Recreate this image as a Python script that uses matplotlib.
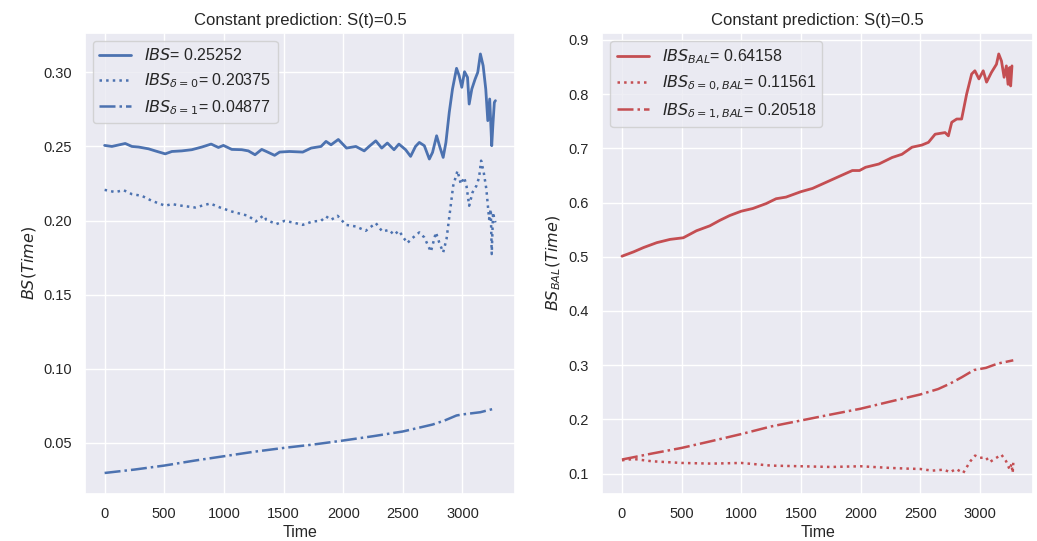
import numpy as np
import matplotlib
matplotlib.use('Agg')
import matplotlib.pyplot as plt
import seaborn as sns

sns.set_theme(style='darkgrid', color_codes=True)
plt.rcParams['font.family'] = ['Liberation Sans', 'DejaVu Sans']

# IBS curves (left panel)
t_ibs = [0, 61, 173, 229, 285, 368, 424, 508, 564, 647, 731, 815, 893, 954, 996,
         1066, 1150, 1205, 1261, 1317, 1356, 1425, 1467, 1550, 1661, 1731, 1814,
         1856, 1898, 1959, 2028, 2106, 2176, 2217, 2273, 2323, 2370, 2426, 2467,
         2523, 2565, 2606, 2638, 2680, 2722, 2749, 2783, 2811, 2838, 2861, 2889,
         2916, 2950, 2972, 2994, 3017, 3042, 3056, 3078, 3106, 3128, 3150, 3173,
         3195, 3212, 3228, 3245, 3256, 3267, 3276]
bs_ibs = [0.2507, 0.250, 0.252, 0.250, 0.2496, 0.2484, 0.247, 0.245, 0.2466, 0.247,
          0.2478, 0.2496, 0.2516, 0.2493, 0.2507, 0.248, 0.2478, 0.247, 0.2444,
          0.248, 0.2466, 0.244, 0.2462, 0.2466, 0.2462, 0.2489, 0.25, 0.2534,
          0.2511, 0.2547, 0.2489, 0.25, 0.247, 0.25, 0.2538, 0.2489, 0.2523,
          0.2478, 0.2516, 0.2478, 0.2433, 0.25, 0.2527, 0.2505, 0.2415, 0.246,
          0.2572, 0.2494, 0.2426, 0.2527, 0.273, 0.2887, 0.3027, 0.2977, 0.2899,
          0.3004, 0.2966, 0.2786, 0.2887, 0.2955, 0.30, 0.3124, 0.3045, 0.2887,
          0.2674, 0.282, 0.2505, 0.2662, 0.2797, 0.2809]

t_ibs0 = [0, 89, 159, 229, 312, 396, 508, 564, 647, 759, 885, 968, 1066, 1150, 1205,
          1267, 1331, 1356, 1439, 1508, 1578, 1661, 1745, 1814, 1856, 1898, 1953,
          2023, 2106, 2189, 2273, 2328, 2384, 2426, 2467, 2537, 2579, 2638, 2680,
          2735, 2777, 2805, 2838, 2866, 2894, 2922, 2958, 2986, 3014, 3033, 3056,
          3084, 3117, 3139, 3156, 3178, 3200, 3223, 3237, 3245, 3256, 3267, 3276]
bs_ibs0 = [0.2207, 0.2192, 0.2205, 0.2178, 0.2167, 0.2133, 0.21, 0.2111, 0.21, 0.2088,
           0.2115, 0.2088, 0.2061, 0.2043, 0.2032, 0.1994, 0.2034, 0.2005, 0.1976,
           0.1998, 0.1987, 0.1971, 0.1994, 0.1998, 0.2028, 0.2005, 0.2032, 0.1971,
           0.196, 0.1931, 0.1983, 0.1926, 0.1937, 0.1904, 0.1931, 0.1848, 0.1881,
           0.192, 0.1886, 0.179, 0.192, 0.1852, 0.1785, 0.1875, 0.2055, 0.2235,
           0.2336, 0.2246, 0.2291, 0.2235, 0.21, 0.219, 0.2235, 0.2291, 0.2404,
           0.2325, 0.2212, 0.201, 0.2077, 0.1774, 0.2055, 0.201, 0.1987]

t_ibs1 = [0, 250, 500, 750, 1000, 1250, 1500, 1750, 2000, 2250, 2500, 2750, 2850,
          2950, 3000, 3150, 3280]
bs_ibs1 = [0.0297, 0.032, 0.0347, 0.038, 0.041, 0.044, 0.0466, 0.0489, 0.0516,
           0.0545, 0.0577, 0.0624, 0.0651, 0.0685, 0.0692, 0.0707, 0.0734]

# balanced IBS curves (right panel)
t_bal = [0, 97, 181, 292, 403, 514, 625, 736, 819, 903, 1000, 1097, 1208, 1292, 1375,
         1500, 1597, 1708, 1819, 1931, 1991, 2042, 2153, 2264, 2347, 2431, 2514,
         2569, 2625, 2708, 2736, 2764, 2806, 2847, 2889, 2931, 2958, 2992, 3028,
         3056, 3097, 3139, 3158, 3181, 3203, 3222, 3236, 3250, 3258, 3269]
bs_bal = [0.501, 0.509, 0.517, 0.526, 0.532, 0.535, 0.548, 0.557, 0.567, 0.576, 0.584,
          0.589, 0.598, 0.607, 0.61, 0.62, 0.626, 0.637, 0.648, 0.659, 0.659, 0.665,
          0.671, 0.683, 0.689, 0.702, 0.706, 0.711, 0.726, 0.729, 0.723, 0.748,
          0.754, 0.754, 0.80, 0.837, 0.843, 0.828, 0.843, 0.822, 0.84, 0.855,
          0.874, 0.861, 0.831, 0.852, 0.818, 0.849, 0.815, 0.852]

t_bal0 = [0, 100, 250, 500, 750, 1000, 1250, 1500, 1750, 2000, 2250, 2400, 2500, 2600,
          2700, 2750, 2800, 2860, 2920, 2960, 3000, 3050, 3080, 3150, 3180, 3220,
          3250, 3265, 3275, 3280]
bs_bal0 = [0.1246, 0.127, 0.1228, 0.1197, 0.1185, 0.1197, 0.1148, 0.1136, 0.1123,
           0.1136, 0.1105, 0.1092, 0.1086, 0.1055, 0.1074, 0.1025, 0.1086, 0.1012,
           0.1228, 0.1333, 0.129, 0.1302, 0.121, 0.1308, 0.1351, 0.1228, 0.1074,
           0.1179, 0.1012, 0.12]

t_bal1 = [0, 250, 500, 750, 1000, 1250, 1500, 1750, 2000, 2250, 2500, 2650, 2750,
          2850, 2950, 3050, 3150, 3280]
bs_bal1 = [0.126, 0.137, 0.1474, 0.160, 0.173, 0.187, 0.198, 0.209, 0.2197, 0.233,
           0.246, 0.256, 0.266, 0.278, 0.291, 0.295, 0.303, 0.309]

fig, (ax1, ax2) = plt.subplots(1, 2, figsize=(10.37, 5.41), dpi=100)
plt.subplots_adjust(left=0.082, right=0.996, top=0.939, bottom=0.087, wspace=0.202)

# Panel izquierdo
ax1.plot(t_ibs, bs_ibs, 'b-', linewidth=2, label=r'$IBS$= 0.25252')
ax1.plot(t_ibs0, bs_ibs0, 'b:', linewidth=1.8, label=r'$IBS_{\delta=0}$= 0.20375')
ax1.plot(t_ibs1, bs_ibs1, 'b-.', linewidth=1.8, label=r'$IBS_{\delta=1}$= 0.04877')
ax1.set_title('Constant prediction: S(t)=0.5', fontsize=12)
ax1.set_xlabel('Time', fontsize=11.5, labelpad=3)
ax1.set_ylabel(r'$BS(Time)$', fontsize=11.5)
ax1.legend(loc='upper left', fontsize=11.5)
ax1.set_xticks([0, 500, 1000, 1500, 2000, 2500, 3000])
ax1.tick_params(labelsize=10.5)

# Panel derecho
ax2.plot(t_bal, bs_bal, 'r-', linewidth=2, label=r'$IBS_{BAL}$= 0.64158')
ax2.plot(t_bal0, bs_bal0, 'r:', linewidth=1.8, label=r'$IBS_{\delta=0, BAL}$= 0.11561')
ax2.plot(t_bal1, bs_bal1, 'r-.', linewidth=1.8, label=r'$IBS_{\delta=1, BAL}$= 0.20518')
ax2.set_title('Constant prediction: S(t)=0.5', fontsize=12)
ax2.set_xlabel('Time', fontsize=11.5, labelpad=3)
ax2.set_ylabel(r'$BS_{BAL}(Time)$', fontsize=11.5)
ax2.legend(loc='upper left', fontsize=11.5)
ax2.set_xticks([0, 500, 1000, 1500, 2000, 2500, 3000])
ax2.tick_params(labelsize=10.5)

plt.savefig('out.png', dpi=100)
